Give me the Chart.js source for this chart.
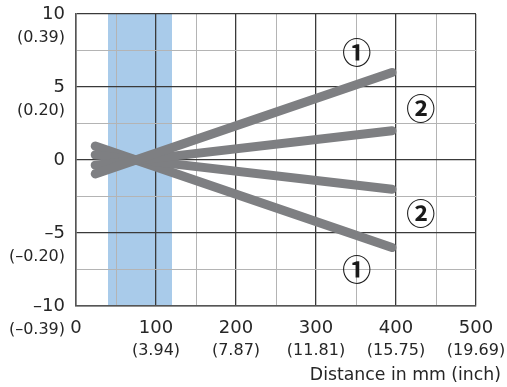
<!DOCTYPE html>
<html>
<head>
<meta charset="utf-8">
<script src="https://cdn.jsdelivr.net/npm/chart.js@4/dist/chart.umd.min.js"></script>
<style>
  html, body { margin: 0; padding: 0; background: #fff; }
  #wrap { width: 507px; height: 387px; position: relative; }
</style>
</head>
<body>
<div id="wrap"><canvas id="chart"></canvas></div>
<script>
// distance (mm) at the ends of each beam line
const distances = [24, 395];
const beam1Up = [-0.95, 6.0];
const beam2Up = [-0.35, 2.0];
const beam2Down = [0.35, -2.0];
const beam1Down = [0.95, -6.0];

// shaded range (mm)
const bandRange = [40, 120];

// tick labels
const xTicksMm = [0, 100, 200, 300, 400, 500];
const xTicksInch = ['', '(3.94)', '(7.87)', '(11.81)', '(15.75)', '(19.69)'];
const yTicksMm = [10, 5, 0, -5, -10];
const yTicksInch = ['(0.39)', '(0.20)', '', '(\u20130.20)', '(\u20130.39)'];

// circled markers next to the lines
const markerText = ['\u2460', '\u2461', '\u2461', '\u2460'];
const markerX = [351, 431, 431, 351];
const markerY = [7.35, 3.5, -3.7, -7.5];

const FONT = '"DejaVu Sans", sans-serif';
const TEXT = '#262626';
const LINE = '#7e7f82';

const fmt = v => (v < 0 ? '\u2013' + Math.abs(v) : String(v));

function beam(ys) {
    return {
        data: distances.map((x, i) => ({ x: x, y: ys[i] })),
        borderColor: LINE,
        borderWidth: 9,
        borderCapStyle: 'round',
        pointRadius: 0,
        fill: false,
    };
}

const extras = {
    id: 'extras',
    beforeDraw(chart) {
        const { ctx, chartArea, scales } = chart;
        const x0 = scales.x.getPixelForValue(bandRange[0]);
        const x1 = scales.x.getPixelForValue(bandRange[1]);
        ctx.save();
        ctx.fillStyle = '#a9cbea';
        ctx.fillRect(x0, chartArea.top, x1 - x0, chartArea.bottom - chartArea.top);
        ctx.restore();
    },
    afterDraw(chart) {
        const { ctx, chartArea, scales } = chart;
        ctx.save();
        ctx.fillStyle = TEXT;
        ctx.font = '16px ' + FONT;

        // inch labels under the x ticks
        ctx.textAlign = 'center';
        ctx.textBaseline = 'middle';
        xTicksMm.forEach((v, i) => {
            ctx.fillText(xTicksInch[i], scales.x.getPixelForValue(v), chartArea.bottom + 45);
        });

        // inch labels under the y ticks
        ctx.textAlign = 'right';
        yTicksMm.forEach((v, i) => {
            ctx.fillText(yTicksInch[i], chartArea.left - 11, scales.y.getPixelForValue(v) + 24);
        });

        // axis title
        ctx.font = '17.3px ' + FONT;
        ctx.textAlign = 'right';
        ctx.fillText('Distance in mm (inch)', 501, 376);

        // circled numbers
        ctx.font = 'bold 29px "Noto Sans CJK JP", "DejaVu Sans", sans-serif';
        ctx.textAlign = 'center';
        ctx.fillStyle = '#1a1a1a';
        markerText.forEach((t, i) => {
            ctx.fillText(t, scales.x.getPixelForValue(markerX[i]), scales.y.getPixelForValue(markerY[i]));
        });
        ctx.restore();
    },
};

new Chart(document.getElementById('chart'), {
    type: 'line',
    data: {
        datasets: [beam(beam1Up), beam(beam2Up), beam(beam2Down), beam(beam1Down)],
    },
    options: {
        responsive: true,
        maintainAspectRatio: false,
        animation: false,
        layout: { padding: { top: 14, right: 31 } },
        plugins: {
            legend: { display: false },
            tooltip: { enabled: false },
        },
        scales: {
            x: {
                type: 'linear',
                min: 0,
                max: 500,
                afterFit(scale) {
                    scale.height = 81;
                    scale.paddingLeft = 0;
                    scale.paddingRight = 0;
                },
                afterBuildTicks(scale) {
                    scale.ticks = [];
                    for (let v = 0; v <= 500; v += 50) scale.ticks.push({ value: v });
                },
                ticks: {
                    autoSkip: false,
                    maxRotation: 0,
                    padding: 12,
                    color: TEXT,
                    font: { family: FONT, size: 18 },
                    callback: v => (xTicksMm.includes(v) ? fmt(v) : ''),
                },
                grid: {
                    drawTicks: false,
                    color: c => (c.tick && c.tick.value % 100 === 0 ? '#3a3a3a' : '#b4b4b4'),
                    lineWidth: c => (c.tick && c.tick.value % 100 === 0 ? 1.3 : 1),
                },
                border: { color: '#555', width: 1.5 },
            },
            y: {
                type: 'linear',
                min: -10,
                max: 10,
                afterFit(scale) {
                    scale.width = 76;
                    scale.paddingTop = 0;
                    scale.paddingBottom = 0;
                },
                afterBuildTicks(scale) {
                    scale.ticks = [];
                    for (let v = -10; v <= 10; v += 2.5) scale.ticks.push({ value: v });
                },
                ticks: {
                    autoSkip: false,
                    padding: 11,
                    color: TEXT,
                    font: { family: FONT, size: 18 },
                    callback: v => (yTicksMm.includes(v) ? fmt(v) : ''),
                },
                grid: {
                    drawTicks: false,
                    color: c => (c.tick && c.tick.value % 5 === 0 ? '#3a3a3a' : '#b4b4b4'),
                    lineWidth: c => (c.tick && c.tick.value % 5 === 0 ? 1.3 : 1),
                },
                border: { color: '#555', width: 1.5 },
            },
        },
    },
    plugins: [extras],
});
</script>
</body>
</html>
